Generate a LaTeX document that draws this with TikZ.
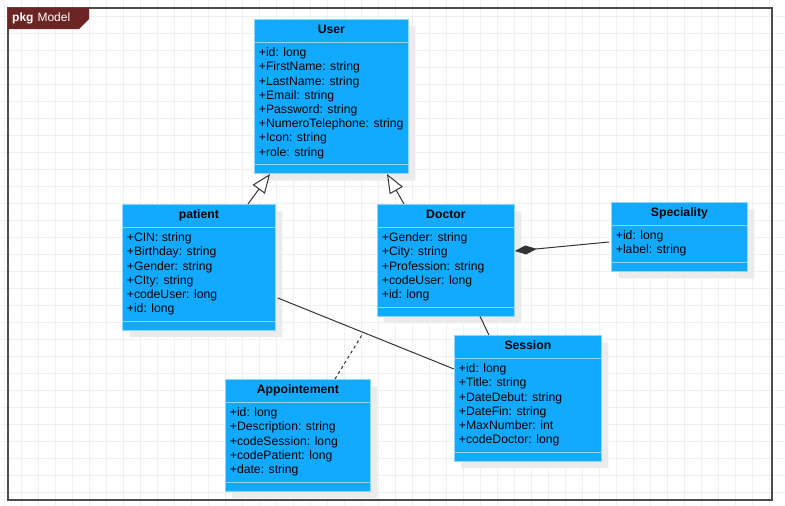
\documentclass[tikz,border=0pt]{standalone}
\usepackage{fontspec}
\setmainfont{Liberation Sans}
\usetikzlibrary{shapes.multipart,shadows,arrows.meta,calc}

\definecolor{classblue}{RGB}{18,170,255}
\definecolor{classline}{RGB}{140,215,255}
\definecolor{pkgred}{RGB}{108,36,36}
\definecolor{linkgray}{RGB}{51,51,51}

\tikzset{
  gridline/.style={draw=black!6, line width=0.8pt},
  frame/.style={draw=black!70, line width=1.3pt},
  pkglabel/.style={anchor=west, inner sep=0pt, text=white, font=\fontsize{12}{14}\selectfont},
  umlclass/.style={rectangle split, rectangle split parts=3,
    rectangle split part align={center,left,left},
    draw=classline, line width=0.8pt, fill=classblue, anchor=north west, align=left,
    inner xsep=4.5pt, inner ysep=4pt, text=black,
    font=\fontsize{12.2}{14.2}\selectfont,
    drop shadow={shadow xshift=7pt, shadow yshift=-7pt, fill=black!8, opacity=1}},
  link/.style={draw=linkgray, line width=1pt},
  inherit/.style={link, -{Triangle[open, fill=white, length=19pt, width=15pt]}},
  compose/.style={link, -{Diamond[length=22pt, width=9pt]}},
  assocclass/.style={link, dash pattern=on 3pt off 3pt}
}

\begin{document}
\begin{tikzpicture}[x=1pt, y=-1pt]
  \useasboundingbox (0,0) rectangle (785,506);
  % background grid
  \foreach \i in {0,...,45} \draw[gridline] (4+17*\i,0) -- (4+17*\i,506);
  \foreach \j in {0,...,28} \draw[gridline] (0,16+17*\j) -- (785,16+17*\j);

  % package frame
  \draw[frame] (8,8) rectangle (772,500);
  \fill[pkgred] (8,8) -- (89,8) -- (89,19) -- (79,29) -- (8,29) -- cycle;
  \node[pkglabel] (pkg) at (12,18.5) {\textbf{pkg}\hspace{4pt}Model};

  % classes
  \node[umlclass, minimum width=154pt] (user) at (254,19) {\textbf{User}\strut
    \nodepart{two}\strut+id: long\\ \strut+FirstName: string\\ \strut+LastName: string\\
    \strut+Email: string\\ \strut+Password: string\\ \strut+NumeroTelephone: string\\
    \strut+Icon: string\\ \strut+role: string
    \nodepart{three}\hspace{1pt}};
  \node[umlclass, minimum width=153pt] (patient) at (122,204) {\textbf{patient}\strut
    \nodepart{two}\strut+CIN: string\\ \strut+Birthday: string\\ \strut+Gender: string\\
    \strut+CIty: string\\ \strut+codeUser: long\\ \strut+id: long
    \nodepart{three}\hspace{1pt}};
  \node[umlclass, minimum width=137pt] (doctor) at (377,204) {\textbf{Doctor}\strut
    \nodepart{two}\strut+Gender: string\\ \strut+City: string\\ \strut+Profession: string\\
    \strut+codeUser: long\\ \strut+id: long
    \nodepart{three}\hspace{1pt}};
  \node[umlclass, minimum width=136pt] (speciality) at (611,202) {\textbf{Speciality}\strut
    \nodepart{two}\strut+id: long\\ \strut+label: string
    \nodepart{three}\hspace{1pt}};
  \node[umlclass, minimum width=147pt] (session) at (454,335) {\textbf{Session}\strut
    \nodepart{two}\strut+id: long\\ \strut+Title: string\\ \strut+DateDebut: string\\
    \strut+DateFin: string\\ \strut+MaxNumber: int\\ \strut+codeDoctor: long
    \nodepart{three}\hspace{1pt}};
  \node[umlclass, minimum width=145pt] (appointement) at (225,379) {\textbf{Appointement}\strut
    \nodepart{two}\strut+id: long\\ \strut+Description: string\\ \strut+codeSession: long\\
    \strut+codePatient: long\\ \strut+date: string
    \nodepart{three}\hspace{1pt}};

  % relations
  \draw[inherit] ($(patient.north west)+(126,0)$) -- ($(user.south west)+(16,0)$);
  \draw[inherit] ($(doctor.north west)+(27,0)$) -- ($(user.south west)+(133,0)$);
  \draw[compose] ($(speciality.north west)+(-2,40)$) -- ($(doctor.north east)+(0,47)$);
  \draw[link] ($(doctor.south west)+(103,0)$) -- ($(session.north west)+(35,0)$);
  \draw[link] ($(patient.north east)+(2,94)$) -- ($(session.north west)+(0,34)$)
    coordinate[pos=0.486] (assoc);
  \draw[assocclass] ($(appointement.north west)+(110,0)$) -- (assoc);
\end{tikzpicture}
\end{document}
